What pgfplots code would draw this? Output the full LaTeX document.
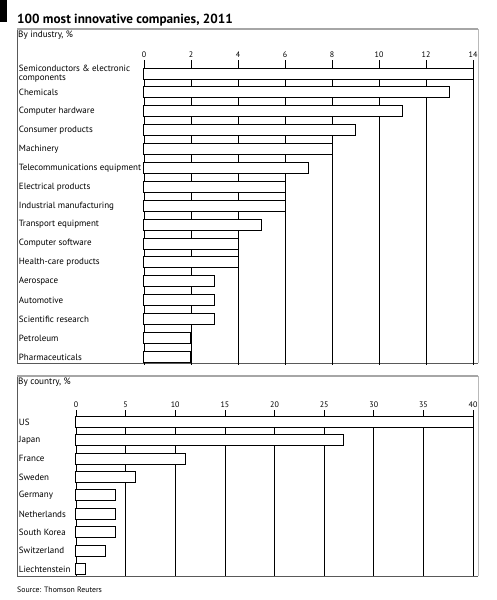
\documentclass[border=0pt]{standalone}
\usepackage{fontspec}
\setmainfont{PT Sans}
\usepackage{pgfplots}
\pgfplotsset{compat=1.18}
\begin{document}
\begin{tikzpicture}
\path[use as bounding box] (0pt,0pt) rectangle (496pt,-600pt);
% header
\fill[black] (0pt,0pt) rectangle (7pt,-22pt);
\node[anchor=base west,inner sep=0pt,font=\bfseries\fontsize{13.2}{15}\selectfont] at (17pt,-23pt) {100 most innovative companies, 2011};
% panel frames
\draw[gray!55,line width=0.8pt] (478pt,-29pt) -- (478pt,-363pt);
\draw[gray!70!black,line width=0.7pt] (17pt,-29pt) -- (17pt,-363pt) -- (478pt,-363pt);
\draw[gray!70,line width=1.6pt] (17pt,-29pt) -- (478.4pt,-29pt);
\draw[gray!55,line width=0.8pt] (478pt,-376pt) -- (478pt,-576pt);
\draw[gray!70!black,line width=0.7pt] (17pt,-376pt) -- (17pt,-576pt) -- (478pt,-576pt);
\draw[gray!70,line width=1.6pt] (17pt,-376pt) -- (478.4pt,-376pt);
\node[anchor=west,inner sep=0pt,font=\fontsize{9.2}{10}\selectfont] at (18pt,-35.5pt) {By industry, \%};
\node[anchor=west,inner sep=0pt,font=\fontsize{9.2}{10}\selectfont] at (18pt,-382pt) {By country, \%};
\node[anchor=west,inner sep=0pt,font=\fontsize{7.8}{9}\selectfont] at (17pt,-590pt) {Source: Thomson Reuters};

\pgfplotsset{
  panel/.style={
    scale only axis, xbar, clip=false,
    y dir=reverse,
    axis line style={draw=none},
    tick style={draw=none},
    xmajorgrids, grid style={black,line width=0.7pt},
    xticklabel pos=upper,
    xmin=0,
    ytick={0,...,15},
    /pgf/number format/assume math mode=true,
    xticklabel style={font=\fontsize{8}{9}\selectfont, yshift=-1pt},
    yticklabel style={anchor=west, inner xsep=0pt, align=left, font=\fontsize{9}{9.6}\selectfont},
    bar width=11pt,
    every axis plot post/.append style={draw=black, fill=white, line width=1pt},
  }
}
\begin{axis}[panel,
  at={(144pt,-60pt)}, anchor=north west,
  width=329pt, height=305pt,
  xmax=14, xtick={0,2,...,14},
  ymin=-0.72, ymax=15.43,
  yticklabel style={xshift=-121pt},
  yticklabels={{Semiconductors \& electronic\\components},Chemicals,Computer hardware,Consumer products,Machinery,Telecommunications equipment,Electrical products,Industrial manufacturing,Transport equipment,Computer software,Health-care products,Aerospace,Automotive,Scientific research,Petroleum,Pharmaceuticals},
]
\addplot coordinates {(14,0) (13,1) (11,2) (9,3) (8,4) (7,5) (6,6) (6,7) (5,8) (4,9) (4,10) (3,11) (3,12) (3,13) (2,14) (2,15)};
\end{axis}

\begin{axis}[panel,
  at={(76pt,-410pt)}, anchor=north west,
  width=397pt, height=166pt,
  xmax=40, xtick={0,5,...,40},
  ymin=-0.65, ymax=8.38,
  ytick={0,...,8},
  yticklabel style={xshift=-53pt},
  yticklabels={US,Japan,France,Sweden,Germany,Netherlands,South Korea,Switzerland,Liechtenstein},
]
\addplot coordinates {(40,0) (27,1) (11,2) (6,3) (4,4) (4,5) (4,6) (3,7) (1,8)};
\end{axis}
\end{tikzpicture}
\end{document}
